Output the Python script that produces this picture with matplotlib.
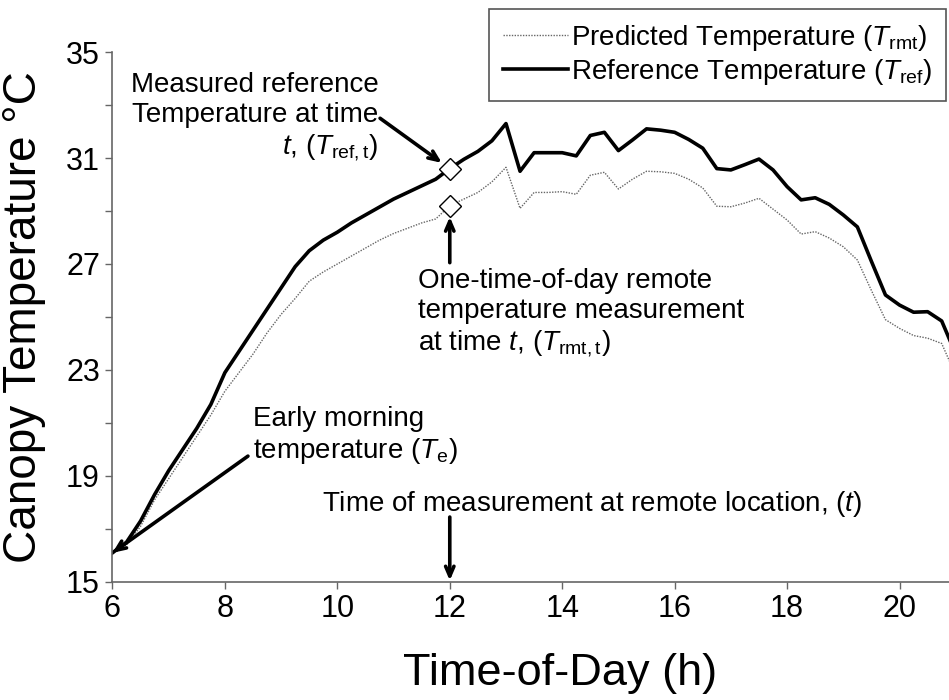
import numpy as np
import matplotlib
matplotlib.use("Agg")
import matplotlib.pyplot as plt

plt.rcParams['font.family'] = ['Liberation Sans', 'DejaVu Sans']
plt.rcParams['mathtext.fontset'] = 'custom'
plt.rcParams['mathtext.rm'] = 'Liberation Sans'
plt.rcParams['mathtext.it'] = 'Liberation Sans:italic'

# ---- data ----
hours = [6.0, 6.25, 6.5, 6.75, 7.0, 7.25, 7.5, 7.75, 8.0, 8.25, 8.5, 8.75,
         9.0, 9.25, 9.5, 9.75, 10.0, 10.25, 10.5, 10.75, 11.0, 11.25, 11.5, 11.75,
         12.0, 12.25, 12.5, 12.75, 13.0, 13.25, 13.5, 13.75, 14.0, 14.25, 14.5, 14.75,
         15.0, 15.25, 15.5, 15.75, 16.0, 16.25, 16.5, 16.75, 17.0, 17.25, 17.5, 17.75,
         18.0, 18.25, 18.5, 18.75, 19.0, 19.25, 19.5, 19.75, 20.0, 20.25, 20.5, 20.75, 21.0]
t_ref = [16.1, 16.5, 17.3, 18.3, 19.2, 20.0, 20.8, 21.7, 22.9, 23.7, 24.5, 25.3,
         26.1, 26.9, 27.5, 27.9, 28.2, 28.55, 28.85, 29.15, 29.45, 29.7, 29.95, 30.2,
         30.6, 30.95, 31.25, 31.65, 32.3, 30.5, 31.2, 31.2, 31.2, 31.08, 31.85, 31.97,
         31.28, 31.68, 32.1, 32.05, 31.97, 31.7, 31.37, 30.6, 30.55, 30.75, 30.96, 30.55,
         29.92, 29.42, 29.5, 29.25, 28.85, 28.4, 27.1, 25.83, 25.45, 25.18, 25.2, 24.85, 23.6]
t_rmt = [16.1, 16.4, 17.1, 18.1, 18.9, 19.7, 20.5, 21.3, 22.2, 22.9, 23.6, 24.4,
         25.1, 25.7, 26.35, 26.7, 27.0, 27.3, 27.6, 27.9, 28.15, 28.35, 28.55, 28.7,
         29.2, 29.45, 29.7, 30.1, 30.65, 29.1, 29.7, 29.7, 29.73, 29.63, 30.35, 30.46,
         29.83, 30.2, 30.5, 30.48, 30.42, 30.2, 29.87, 29.18, 29.16, 29.3, 29.48, 29.07,
         28.66, 28.13, 28.22, 27.98, 27.65, 27.15, 26.0, 24.9, 24.57, 24.3, 24.2, 24.0, 22.8]
t_meas = 12.0
x_ticks = [6, 8, 10, 12, 14, 16, 18, 20]
y_ticks = [15, 19, 23, 27, 31, 35]
y_minor = [17, 21, 25, 29, 33]

i_meas = hours.index(t_meas)

fig = plt.figure(figsize=(9.49, 7.0), dpi=100)
ax = fig.add_axes([0.1185, 0.1686, 0.8815, 0.7571])

ax.plot(hours, t_rmt, color='#666666', lw=1.0, ls=(0, (1, 1)),
        label='Predicted Temperature ($\\mathit{T}_{\\rm rmt}$)')
ax.plot(hours, t_ref, color='black', lw=2.6,
        label='Reference Temperature ($\\mathit{T}_{\\rm ref}$)')
ax.plot([t_meas, t_meas], [t_ref[i_meas], t_rmt[i_meas]], ls='none', marker='D',
        ms=11, mfc='white', mec='black', mew=1.0, zorder=5)

ax.set_xlim(6, 20.88)
ax.set_ylim(15, 35)
ax.set_xticks(x_ticks)
ax.set_yticks(y_ticks)
ax.set_yticks(y_minor, minor=True)
ax.tick_params(axis='both', which='both', direction='out', length=5, width=1,
               color='#666666', labelsize=22, pad=4)
for s in ['top', 'right']:
    ax.spines[s].set_visible(False)
for s in ['left', 'bottom']:
    ax.spines[s].set_color('#666666')
    ax.spines[s].set_linewidth(1.2)

ax.set_xlabel('Time-of-Day (h)', fontsize=32.5)
ax.set_ylabel('Canopy Temperature °C', fontsize=33)
ax.xaxis.set_label_coords(0.535, -0.134)
ax.yaxis.set_label_coords(-0.08, 0.50)

fs = 20
arrow_kw = dict(arrowstyle='->,head_length=0.7,head_width=0.3', lw=2.6, color='black')

# annotation 1: reference at time t
ax.text(10.73, 34.25, 'Measured reference\nTemperature at time\n$\\mathit{t}$, ($\\mathit{T}_{\\rm ref,t}$)',
        ha='right', va='top', fontsize=fs, multialignment='right', linespacing=1.2)
ax.annotate('', xy=(t_meas, t_ref[i_meas]), xytext=(10.76, 32.5),
            arrowprops=dict(shrinkA=0, shrinkB=7, **arrow_kw))

# annotation 2: remote measurement
ax.text(11.44, 26.85, 'One-time-of-day remote\ntemperature measurement\nat time $\\mathit{t}$, ($\\mathit{T}_{\\rm rmt,t}$)',
        ha='left', va='top', fontsize=fs, linespacing=1.2)
ax.annotate('', xy=(t_meas, t_rmt[i_meas]), xytext=(t_meas, 27.05),
            arrowprops=dict(shrinkA=0, shrinkB=8, **arrow_kw))

# annotation 3: early morning
ax.text(8.50, 21.65, 'Early morning\ntemperature ($\\mathit{T}_{\\rm e}$)',
        ha='left', va='top', fontsize=fs, linespacing=1.2)
ax.annotate('', xy=(hours[0], t_ref[0]), xytext=(8.41, 19.75),
            arrowprops=dict(shrinkA=0, shrinkB=0, **arrow_kw))

# annotation 4: time of measurement
ax.text(9.73, 18.5, 'Time of measurement at remote location, ($\\mathit{t}$)',
        ha='left', va='top', fontsize=fs)
ax.annotate('', xy=(t_meas, 15.0), xytext=(t_meas, 17.45),
            arrowprops=dict(shrinkA=0, shrinkB=1, **arrow_kw))

leg = ax.legend(loc='upper right', bbox_to_anchor=(946 / 949, 1 - 9 / 700),
                bbox_transform=fig.transFigure, borderaxespad=0, fontsize=fs,
                handlelength=2.35, handletextpad=0.1, labelspacing=0.15,
                borderpad=0.5, fancybox=False, framealpha=1)
leg.get_frame().set_edgecolor('#555555')
leg.get_frame().set_linewidth(1.2)
leg.set_zorder(10)

fig.savefig('out.png', dpi=100)
